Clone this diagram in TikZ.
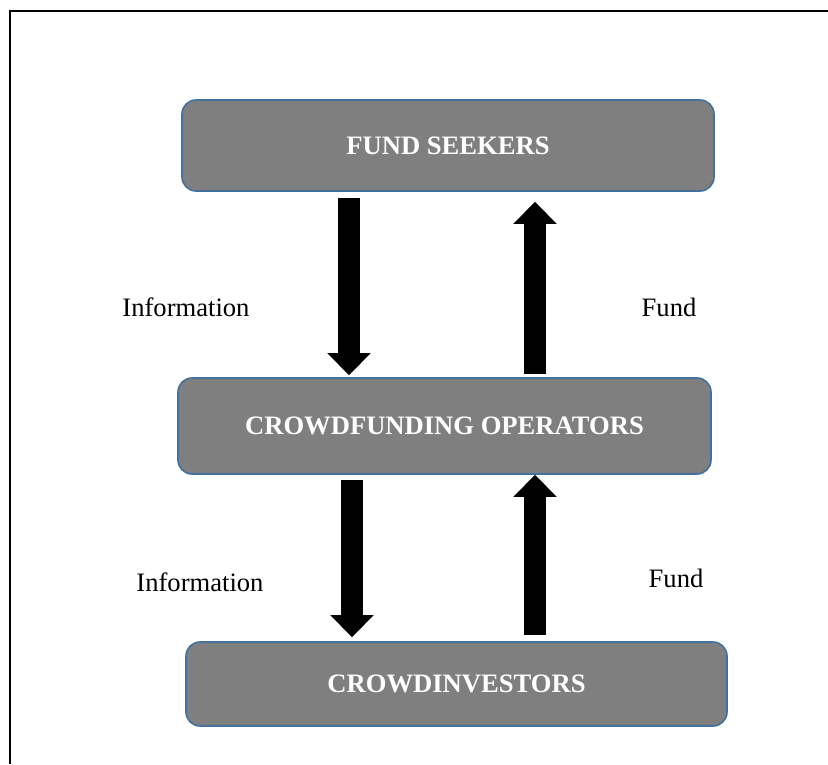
\documentclass[tikz,border=0pt]{standalone}
\usepackage{fontspec}
\setmainfont{Liberation Serif}
\usetikzlibrary{arrows.meta}
\definecolor{boxedge}{RGB}{65,113,156}
\definecolor{boxfill}{RGB}{127,127,127}

\begin{document}
\begin{tikzpicture}
[
x=0.5pt, y=-0.5pt,
party/.style={rectangle, draw=boxedge, fill=boxfill, line width=0.8pt, rounded corners=7pt,
  text=white, font=\fontsize{13.3}{16}\selectfont\bfseries},
flow/.style={draw=none, fill=none, font=\fontsize{13.3}{16}\selectfont},
bigarrow/.style={line width=11pt, -{Triangle[width=21pt,length=11pt]}},
]
\useasboundingbox (0,0) rectangle (828,764);
\draw[line width=1.3pt] (10,764) -- (10,11) -- (828,11);

\node at (448,145.5) [party, minimum width=266pt, minimum height=45.5pt] (seekers)   {FUND SEEKERS};
\node at (444.5,426) [party, minimum width=266.5pt, minimum height=48pt] (operators) {CROWDFUNDING OPERATORS};
\node at (456.5,684) [party, minimum width=270.5pt, minimum height=42pt] (investors) {CROWDINVESTORS};

% top pair
\draw[bigarrow, shorten <=3pt, shorten >=1pt] (349,0 |- seekers.south) -- (349,0 |- operators.north);
\node at (186,307) [flow] (info1) {Information};
\draw[bigarrow, shorten <=1.5pt, shorten >=5pt] (535,0 |- operators.north) -- (535,0 |- seekers.south);
\node at (669,307) [flow] (fund1) {Fund};

% bottom pair
\draw[bigarrow, shorten <=2.5pt, shorten >=2pt] (352,0 |- operators.south) -- (352,0 |- investors.north);
\node at (200,582) [flow] (info2) {Information};
\draw[bigarrow, shorten <=3pt] (535,0 |- investors.north) -- (535,0 |- operators.south);
\node at (676,578) [flow] (fund2) {Fund};
\end{tikzpicture}
\end{document}
